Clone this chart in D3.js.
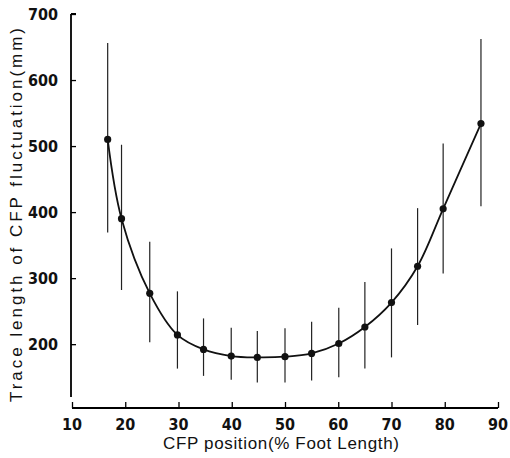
<!DOCTYPE html>
<html>
<head>
<meta charset="utf-8">
<script src="https://cdn.jsdelivr.net/npm/d3@7"></script>
<style>
  body { margin: 0; background: #fff; }
  .tick-label { font-family: "Liberation Sans Narrow", "DejaVu Sans Condensed", sans-serif; font-size: 16px; font-weight: bold; fill: #111; }
  .axis-title { font-family: "Liberation Sans", "DejaVu Sans", sans-serif; font-size: 17px; fill: #111; }
</style>
</head>
<body>
<div id="chart"></div>
<script>
// chart values
const positions = [16.7, 19.3, 24.6, 29.8, 34.7, 39.9, 44.8, 50, 55, 60.1, 65, 70, 74.9, 79.7, 86.8];
const traceMean = [510, 390, 277, 214, 192, 182, 180, 181, 186, 201, 226, 263, 318, 405, 534];
const barTop    = [656, 502, 355, 280, 239, 225, 220, 224, 234, 255, 294, 345, 406, 504, 662];
const barBottom = [369, 282, 203, 163, 152, 146, 142, 142, 145, 150, 163, 180, 229, 307, 409];
const xTicks = [10, 20, 30, 40, 50, 60, 70, 80, 90];
const yTicks = [200, 300, 400, 500, 600, 700];

const width = 510,
      height = 458;

const svg = d3.select("#chart")
  .append("svg")
    .attr("width", width)
    .attr("height", height);

// scales
const x = d3.scaleLinear().domain([10, 90]).range([72, 498]);
const y = d3.scaleLinear().domain([120, 700]).range([397, 14]);
const xAxisY = 408;

const points = positions.map((p, i) => ({
  x: p, mean: traceMean[i], top: barTop[i], bottom: barBottom[i]
}));

// y axis (ticks point inward)
svg.append("g")
    .attr("transform", "translate(71,0)")
    .call(d3.axisRight(y).tickValues(yTicks).tickSize(5).tickFormat(""))
    .call(g => g.select(".domain").attr("d", `M0,${y(700)}H5M0,${y(700)}V${y(120)}`).attr("stroke-width", 1.8))
    .call(g => g.selectAll(".tick line").attr("stroke-width", 1.3));

svg.selectAll(".ylab")
  .data(yTicks)
  .join("text")
    .attr("class", "tick-label")
    .attr("x", 58)
    .attr("y", d => y(d) + 6)
    .attr("text-anchor", "end")
    .text(d => d);

// x axis
svg.append("g")
    .attr("transform", `translate(0,${xAxisY})`)
    .call(d3.axisTop(x).tickValues(xTicks).tickSize(6).tickFormat(""))
    .call(g => g.select(".domain").attr("d", `M${x(10)},0H${x(90)}`).attr("stroke-width", 1.8))
    .call(g => g.selectAll(".tick line").attr("stroke-width", 1.3));

svg.selectAll(".xlab")
  .data(xTicks)
  .join("text")
    .attr("class", "tick-label")
    .attr("x", d => x(d))
    .attr("y", 430)
    .attr("text-anchor", "middle")
    .text(d => d);

// error bars
svg.append("g")
  .selectAll("line")
  .data(points)
  .join("line")
    .attr("x1", d => x(d.x))
    .attr("x2", d => x(d.x))
    .attr("y1", d => y(d.top))
    .attr("y2", d => y(d.bottom))
    .attr("stroke", "#222")
    .attr("stroke-width", 1.2);

// mean curve
const line = d3.line()
  .x(d => x(d.x))
  .y(d => y(d.mean))
  .curve(d3.curveCatmullRom.alpha(0.5));

svg.append("path")
    .datum(points)
    .attr("d", line)
    .attr("fill", "none")
    .attr("stroke", "#111")
    .attr("stroke-width", 1.8);

svg.append("g")
  .selectAll("circle")
  .data(points)
  .join("circle")
    .attr("cx", d => x(d.x))
    .attr("cy", d => y(d.mean))
    .attr("r", 3.6)
    .attr("fill", "#111");

// axis titles
svg.append("text")
    .attr("class", "axis-title")
    .attr("transform", "translate(22,215) rotate(-90)")
    .attr("text-anchor", "middle")
    .attr("textLength", 374)
    .attr("lengthAdjust", "spacing")
    .text("Trace length of CFP fluctuation(mm)");

svg.append("text")
    .attr("class", "axis-title")
    .attr("x", 281)
    .attr("y", 449)
    .attr("text-anchor", "middle")
    .attr("textLength", 236)
    .attr("lengthAdjust", "spacing")
    .text("CFP position(% Foot Length)");
</script>
</body>
</html>
